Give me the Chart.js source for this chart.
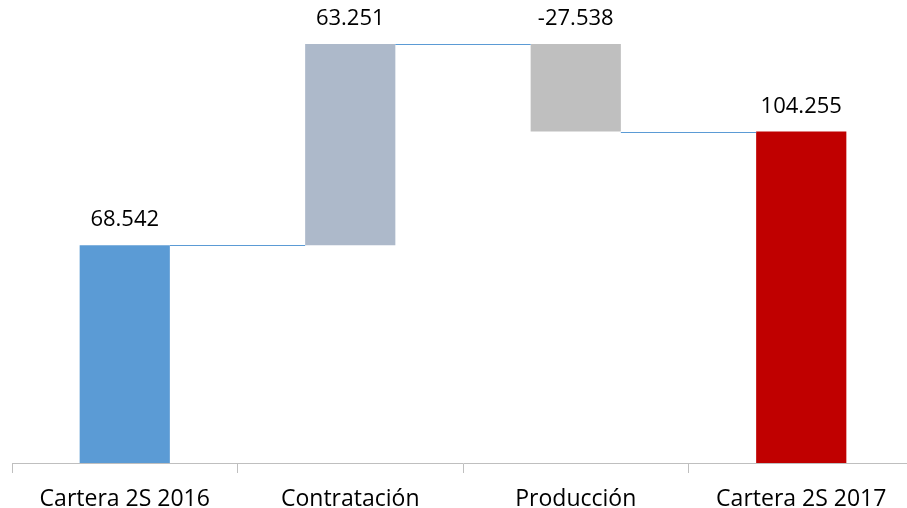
<!DOCTYPE html>
<html>
<head>
<meta charset="utf-8">
<script src="https://cdn.jsdelivr.net/npm/chart.js@4"></script>
<style>
    html, body { margin: 0; padding: 0; background: #fff; overflow: hidden; }
    #wrap { width: 914px; height: 508px; }
</style>
</head>
<body>
<div id="wrap"><canvas id="waterfall" width="914" height="508"></canvas></div>
<script>
var categories = ["Cartera 2S 2016", "Contratación", "Producción", "Cartera 2S 2017"];
var changes = [68.542, 63.251, -27.538, 104.255];
var isTotal = [true, false, false, true];
var barColors = ["#5B9BD5", "#ADB9CA", "#BFBFBF", "#C00000"];

// floating bars [start, end] built from the changes
var ranges = [];
var running = 0;
for (var i = 0; i < changes.length; i++) {
    if (isTotal[i]) {
        ranges.push([0, changes[i]]);
        running = changes[i];
    } else {
        ranges.push([running, running + changes[i]]);
        running = running + changes[i];
    }
}

var connectors = {
    id: 'connectors',
    afterDatasetsDraw: function (chart) {
        var ctx = chart.ctx;
        var meta = chart.getDatasetMeta(0);
        var y = chart.scales.y;
        ctx.save();
        ctx.strokeStyle = "#5B9BD5";
        ctx.lineWidth = 1;
        for (var i = 0; i < meta.data.length - 1; i++) {
            var a = meta.data[i], b = meta.data[i + 1];
            var py = Math.round(y.getPixelForValue(ranges[i][1])) + 0.5;
            ctx.beginPath();
            ctx.moveTo(a.x + a.width / 2, py);
            ctx.lineTo(b.x - b.width / 2, py);
            ctx.stroke();
        }
        ctx.restore();
    }
};

var valueLabels = {
    id: 'valueLabels',
    afterDatasetsDraw: function (chart) {
        var ctx = chart.ctx;
        var meta = chart.getDatasetMeta(0);
        var y = chart.scales.y;
        ctx.save();
        ctx.fillStyle = "#000";
        ctx.font = "22px 'Open Sans'";
        ctx.textAlign = "center";
        ctx.textBaseline = "bottom";
        for (var i = 0; i < meta.data.length; i++) {
            var top = Math.max(ranges[i][0], ranges[i][1]);
            ctx.fillText(changes[i].toFixed(3), meta.data[i].x, y.getPixelForValue(top) - 14);
        }
        ctx.restore();
    }
};

document.addEventListener('DOMContentLoaded', function () {
    new Chart(document.getElementById("waterfall"), {
        type: 'bar',
        data: {
            labels: categories,
            datasets: [{
                data: ranges,
                backgroundColor: barColors,
                borderWidth: 0,
                barPercentage: 0.4,
                categoryPercentage: 1
            }]
        },
        options: {
            responsive: false,
            animation: false,
            layout: { padding: { left: 12, top: 18, right: 0, bottom: 0 } },
            plugins: { legend: { display: false }, tooltip: { enabled: false } },
            scales: {
                x: {
                    grid: { drawOnChartArea: false, tickLength: 10, color: "#BFBFBF" },
                    border: { color: "#BFBFBF" },
                    ticks: { color: "#000", padding: 13, font: { family: "Open Sans", size: 23 } },
                    afterFit: function (s) { s.height = 45; }
                },
                y: {
                    display: false,
                    min: 0,
                    max: 140
                }
            }
        },
        plugins: [connectors, valueLabels]
    });
});
</script>
</body>
</html>
